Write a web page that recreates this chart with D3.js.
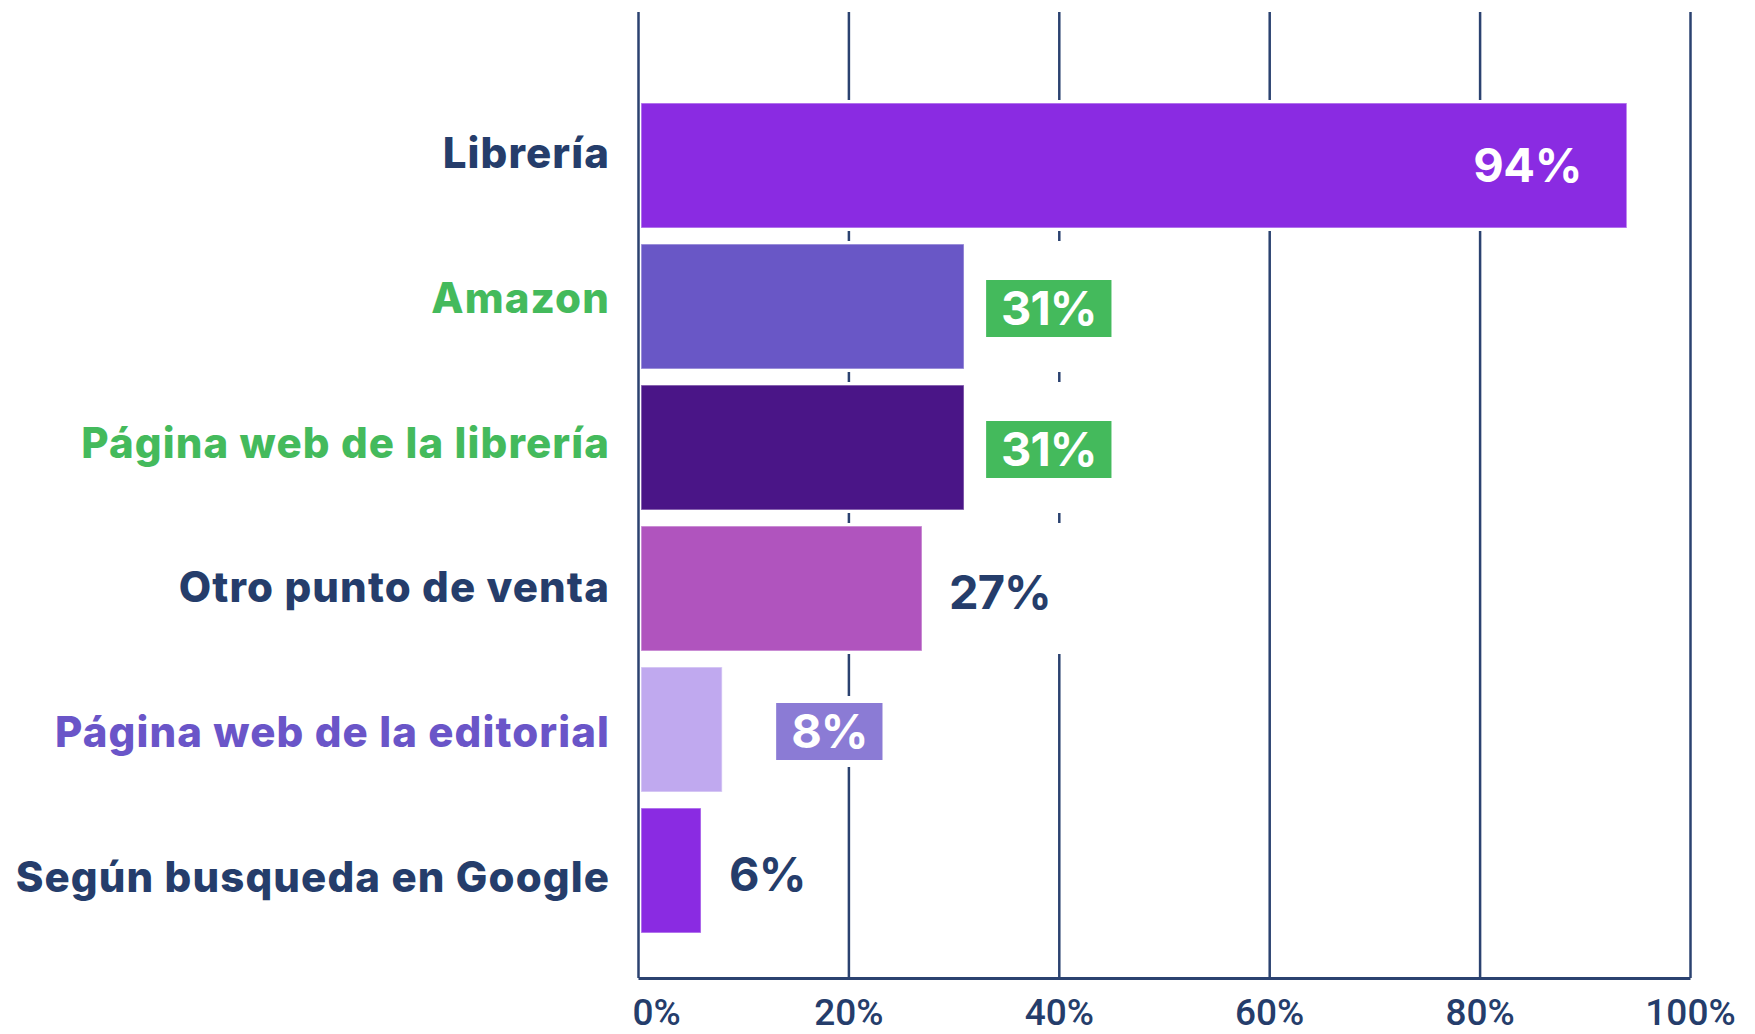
<!DOCTYPE html>
<html>
<head>
<meta charset="utf-8">
<script src="https://cdn.jsdelivr.net/npm/d3@7"></script>
<style>
  body { margin: 0; background: #fff; }
  svg { display: block; }
</style>
</head>
<body>
<div class="main"></div>
<script>
(function() {
  'use strict';

  // data
  var categories = ["Librería", "Amazon", "Página web de la librería",
    "Otro punto de venta", "Página web de la editorial", "Según busqueda en Google"];
  var values = [94, 31, 31, 27, 8, 6];
  var tickValues = [0, 20, 40, 60, 80, 100];

  // styling per row
  var barColors = ["#8a2be2", "#6957c6", "#4a1587", "#b054be", "#c0a9ef", "#8a2be2"];
  var nameColors = ["#253d6b", "#44ba5c", "#44ba5c", "#253d6b", "#6a55c8", "#253d6b"];
  var valueKind = ["inside", "box", "box", "plain", "box", "plain"];
  var boxColors = [null, "#44ba5c", "#44ba5c", null, "#8b7bd5", null];
  var valueGap = [0, 22, 22, 27, 54, 28];
  var backing = ["none", "row", "row", "row", "tight", "row"];

  var navy = "#253d6b";
  var grid = "#2b4270";
  var W = 1755, H = 1034;
  var baseY = 978, topY = 12;

  var svg = d3.select(".main")
    .append("svg")
      .attr("width", W)
      .attr("height", H);

  var x = d3.scaleLinear().domain([0, 100]).range([638, 1690]);
  var y = d3.scaleBand().domain(categories).range([95, 941]).paddingInner(16 / 141).paddingOuter(8 / 141);
  var labelY = d3.scalePoint().domain(categories).range([168, 892]);
  var bw = y.bandwidth();

  // grid + axis
  var axis = svg.append("g")
    .attr("transform", "translate(0," + baseY + ")")
    .call(d3.axisBottom(x)
      .tickValues(tickValues)
      .tickSizeInner(-(baseY - topY))
      .tickSizeOuter(0)
      .tickFormat(function(d) { return d + "%"; }));

  axis.select(".domain")
    .style("stroke", grid)
    .style("stroke-width", 3);
  axis.selectAll(".tick line")
    .style("stroke", grid)
    .style("stroke-width", 2.5);
  axis.selectAll(".tick text")
    .attr("y", 47)
    .attr("dy", 0)
    .style("fill", navy)
    .style("font-family", "Roboto")
    .style("font-weight", 500)
    .style("font-size", "37px")
    .style("text-anchor", function(d) { return d === 0 ? "start" : "middle"; })
    .attr("dx", function(d) { return d === 0 ? -6 : 0; });

  var rows = categories.map(function(c, i) {
    return { name: c, value: values[i], i: i };
  });

  // white halos that cut the grid lines round the bars
  svg.append("g").selectAll("rect")
    .data(rows)
    .join("rect")
      .attr("x", x(0) + 2)
      .attr("y", function(d) { return y(d.name) - 3; })
      .attr("width", function(d) { return x(d.value) - x(0) + 1; })
      .attr("height", bw + 6)
      .style("fill", "#fff");

  svg.append("g").selectAll("rect")
    .data(rows)
    .join("rect")
      .attr("x", x(0) + 3)
      .attr("y", function(d) { return y(d.name); })
      .attr("width", function(d) { return x(d.value) - x(0) - 3; })
      .attr("height", bw)
      .style("fill", function(d) { return barColors[d.i]; })
      .style("stroke", "rgba(255,255,255,0.45)")
      .style("stroke-width", 1.5);

  // category names
  svg.append("g").selectAll("text")
    .data(rows)
    .join("text")
      .attr("x", 610)
      .attr("y", function(d) { return labelY(d.name); })
      .text(function(d) { return d.name; })
      .style("text-anchor", "end")
      .style("fill", function(d) { return nameColors[d.i]; })
      .style("font-family", "Inter")
      .style("font-weight", 800)
      .style("font-size", "42px")
      .style("letter-spacing", "1.1px");

  // value labels
  var valG = svg.append("g");
  rows.forEach(function(d) {
    var kind = valueKind[d.i];
    var cy = y(d.name) + bw / 2;
    var txt = d.value + "%";
    var t;

    if (kind === "inside") {
      valG.append("text")
        .attr("x", x(d.value) - 45)
        .attr("y", cy + 16)
        .text(txt)
        .style("text-anchor", "end")
        .style("fill", "#fff")
        .style("font-family", "Inter")
        .style("font-weight", 700)
        .style("font-size", "47px")
        .style("letter-spacing", "-0.5px");
      return;
    }

    var left = x(d.value) + valueGap[d.i];
    var back = valG.append("rect").style("fill", "#fff");
    var box = kind === "box" ? valG.append("rect").style("fill", boxColors[d.i]) : null;

    t = valG.append("text")
      .attr("y", cy + (kind === "box" ? 18 : 20))
      .text(txt)
      .style("fill", kind === "box" ? "#fff" : navy)
      .style("font-family", "Inter")
      .style("font-weight", 700)
      .style("font-size", "47px")
      .style("letter-spacing", "-1px");

    var tw = t.node().getComputedTextLength();
    var right;
    if (kind === "box") {
      var bwid = tw + 30, bh = 57;
      t.attr("x", left + bwid / 2).style("text-anchor", "middle");
      box.attr("x", left).attr("y", cy - bh / 2 + 2)
        .attr("width", bwid).attr("height", bh);
      right = left + bwid;
      if (backing[d.i] === "tight") {
        back.attr("x", left - 7).attr("y", cy - bh / 2 - 5)
          .attr("width", bwid + 14).attr("height", bh + 14);
      } else {
        back.attr("x", x(d.value)).attr("y", y(d.name) - 3)
          .attr("width", right - x(d.value)).attr("height", bw + 6);
      }
    } else {
      t.attr("x", left).style("text-anchor", "start");
      right = left + tw + 17;
      back.attr("x", x(d.value)).attr("y", y(d.name) - 3)
        .attr("width", right - x(d.value)).attr("height", bw + 6);
    }
  });

}) ();
</script>
</body>
</html>
